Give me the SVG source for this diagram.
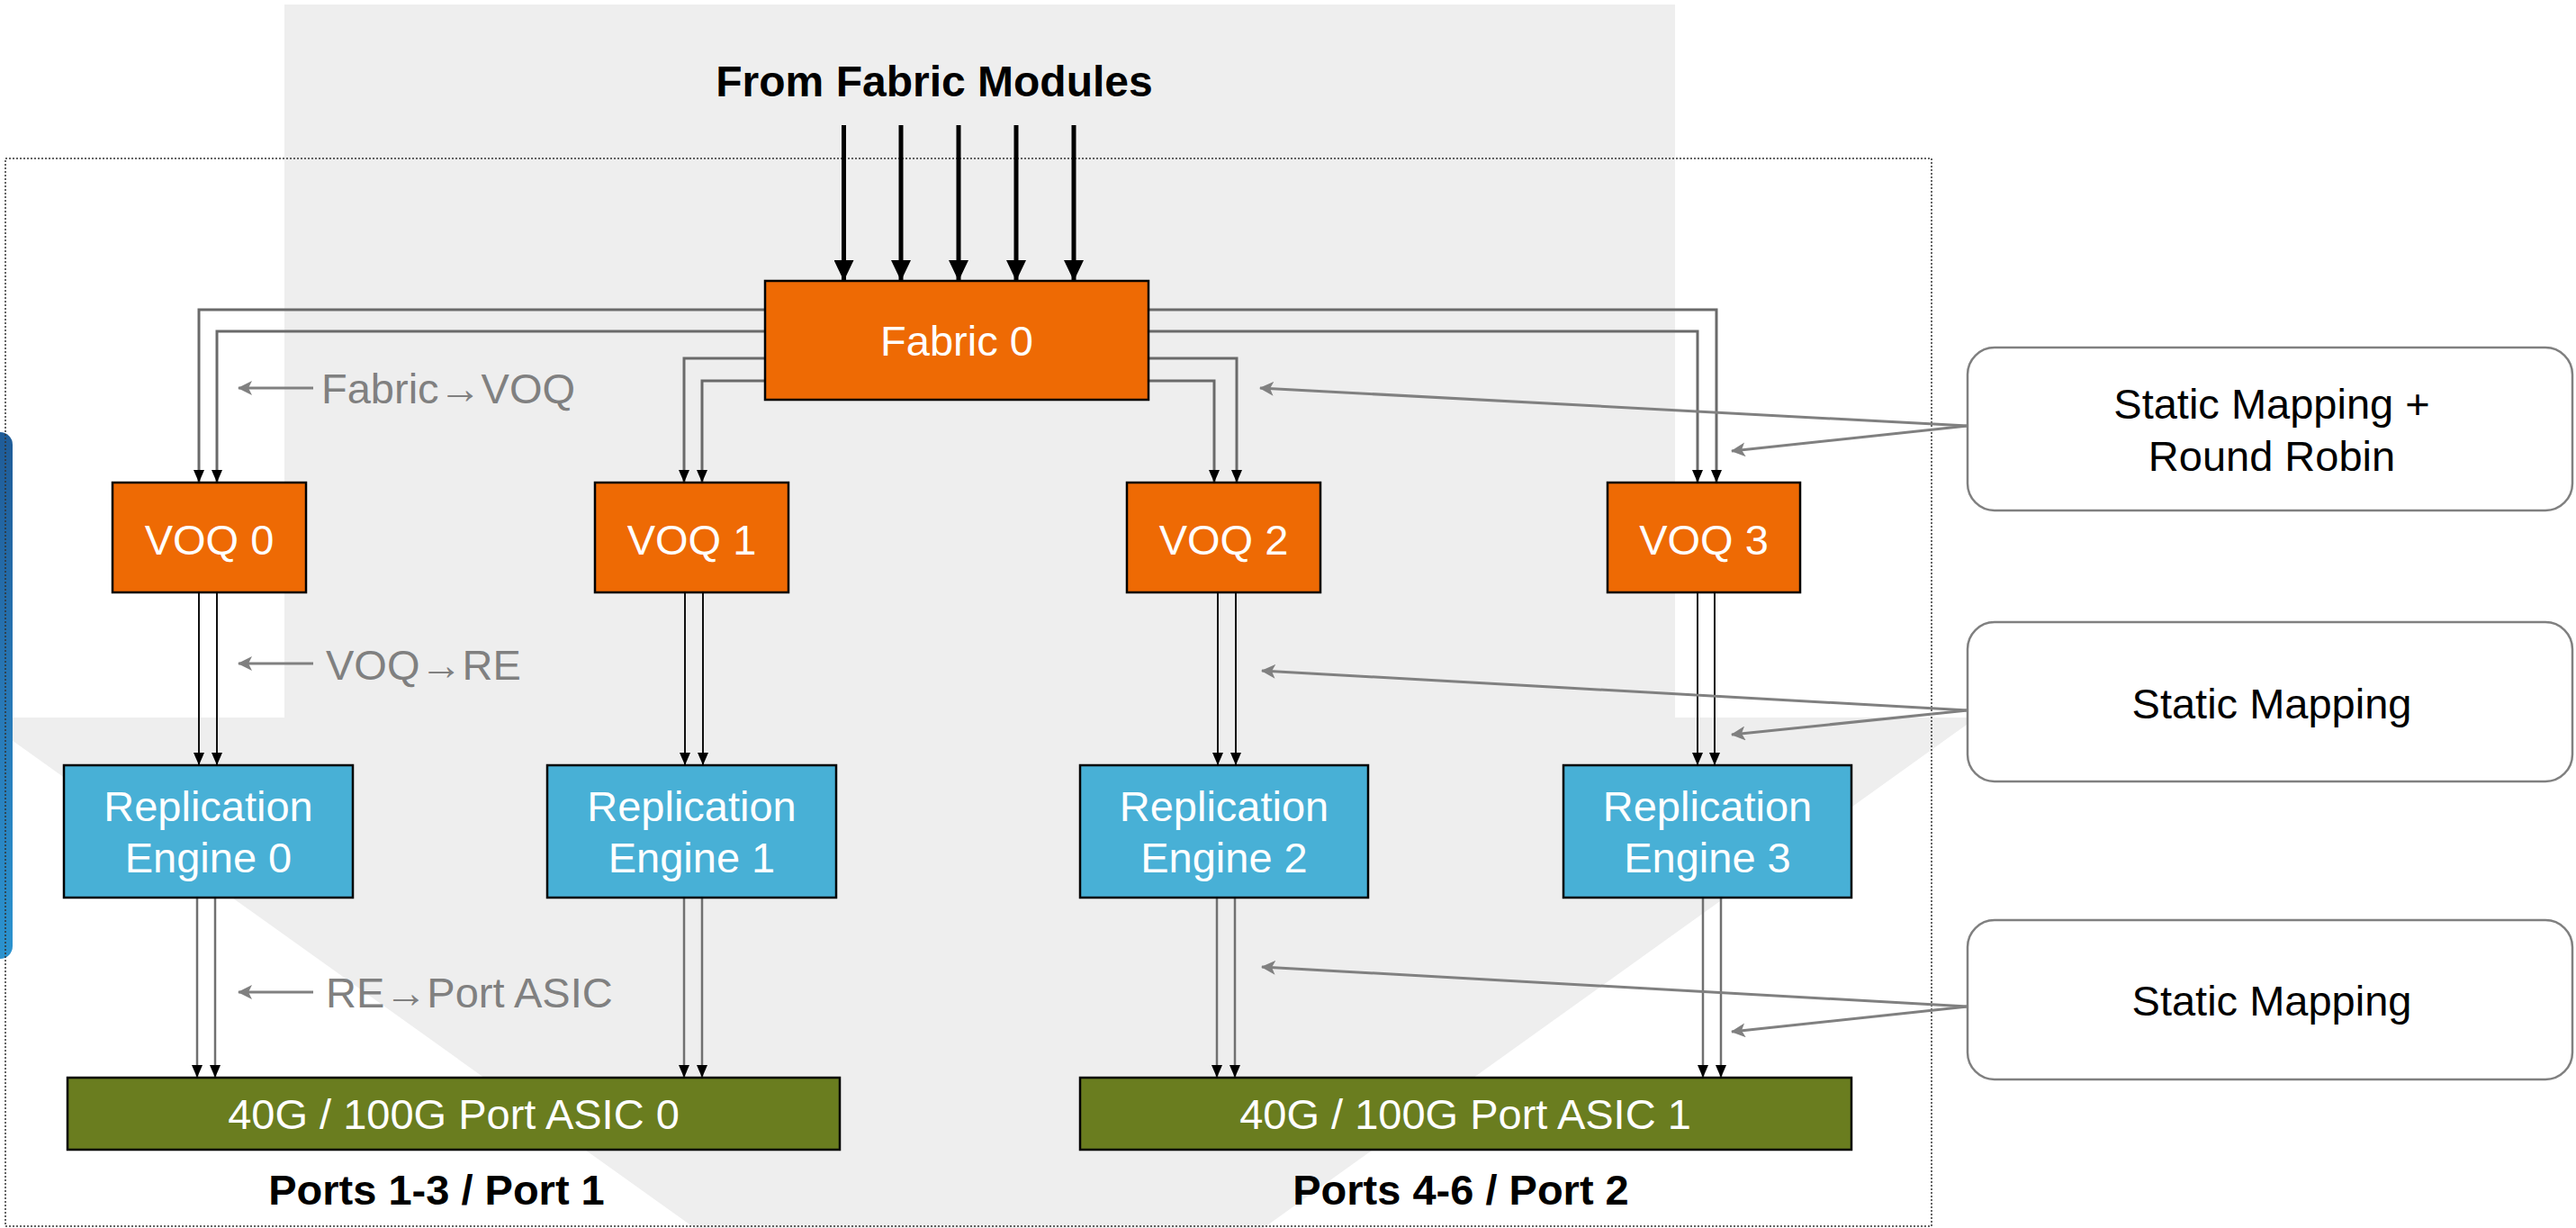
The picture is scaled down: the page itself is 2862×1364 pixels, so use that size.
<svg xmlns="http://www.w3.org/2000/svg" width="2862" height="1364" viewBox="0 0 2862 1364">
<style>
text{font-family:"Liberation Sans",Arial,sans-serif;font-size:47px}
.w{fill:#ffffff}
.g{fill:#808080}
.k{fill:#000000}
.b{font-weight:bold}
.m{text-anchor:middle}
.or{fill:#ee6a04;stroke:#000;stroke-width:2.5}
.bl{fill:#48b0d6;stroke:#000;stroke-width:2.5}
.ol{fill:#6a7d1f;stroke:#000;stroke-width:2.5}
.note{fill:#fff;stroke:#808080;stroke-width:2.5}
.fv{fill:none;stroke:#6a6a6a;stroke-width:3;marker-end:url(#ah)}
.vr{fill:none;stroke:#111;stroke-width:2;marker-end:url(#ah)}
.ra{fill:none;stroke:#707070;stroke-width:2.5;marker-end:url(#ah)}
.thick{fill:none;stroke:#000;stroke-width:5;marker-end:url(#tah)}
.an{fill:none;stroke:#808080;stroke-width:3;marker-end:url(#gah)}
</style>
<defs>
<marker id="ah" viewBox="0 0 14 12" refX="14" refY="6" markerWidth="14" markerHeight="12" markerUnits="userSpaceOnUse" orient="auto">
<path d="M0,0 L14,6 L0,12 Z" fill="#000"/>
</marker>
<marker id="tah" viewBox="0 0 23 22" refX="23" refY="11" markerWidth="23" markerHeight="22" markerUnits="userSpaceOnUse" orient="auto">
<path d="M0,0 L23,11 L0,22 Z" fill="#000"/>
</marker>
<marker id="gah" viewBox="0 0 16 16" refX="15" refY="8" markerWidth="16" markerHeight="16" markerUnits="userSpaceOnUse" orient="auto">
<path d="M0,0 L16,8 L0,16 L4,8 Z" fill="#808080"/>
</marker>
<linearGradient id="bg1" x1="0" y1="0" x2="0" y2="1">
<stop offset="0" stop-color="#1f5c98"/>
<stop offset="0.5" stop-color="#2878b6"/>
<stop offset="1" stop-color="#2b93cf"/>
</linearGradient>
</defs>
<rect x="0" y="0" width="2862" height="1364" fill="#ffffff"/>
<g id="background">
<polygon points="316,5 1861,5 1861,797 2196,797 1088,1590 -22,797 316,797" fill="#eeeeee"/>
<rect x="-40" y="480" width="54" height="585" rx="14" fill="url(#bg1)"/>
<rect x="6" y="176" width="2140" height="1186" fill="none" stroke="#333" stroke-width="1.5" stroke-dasharray="2,2"/>
</g>
<g id="title">
<text x="1038" y="107" class="k b m" style="font-size:48px">From Fabric Modules</text>
</g>
<g id="connectors">
<line x1="937.5" y1="139" x2="937.5" y2="312" class="thick"/>
<line x1="1001" y1="139" x2="1001" y2="312" class="thick"/>
<line x1="1065" y1="139" x2="1065" y2="312" class="thick"/>
<line x1="1129" y1="139" x2="1129" y2="312" class="thick"/>
<line x1="1193" y1="139" x2="1193" y2="312" class="thick"/>
<polyline points="850,344 221,344 221,536" class="fv"/>
<polyline points="850,368 241,368 241,536" class="fv"/>
<polyline points="850,398 760,398 760,536" class="fv"/>
<polyline points="850,423 780,423 780,536" class="fv"/>
<polyline points="1276,398 1374,398 1374,536" class="fv"/>
<polyline points="1276,423 1349,423 1349,536" class="fv"/>
<polyline points="1276,344 1907,344 1907,536" class="fv"/>
<polyline points="1276,368 1886,368 1886,536" class="fv"/>
<line x1="221" y1="658" x2="221" y2="850" class="vr"/>
<line x1="241" y1="658" x2="241" y2="850" class="vr"/>
<line x1="761" y1="658" x2="761" y2="850" class="vr"/>
<line x1="781" y1="658" x2="781" y2="850" class="vr"/>
<line x1="1353" y1="658" x2="1353" y2="850" class="vr"/>
<line x1="1373" y1="658" x2="1373" y2="850" class="vr"/>
<line x1="1886" y1="658" x2="1886" y2="850" class="vr"/>
<line x1="1905" y1="658" x2="1905" y2="850" class="vr"/>
<line x1="219" y1="997" x2="219" y2="1197" class="ra"/>
<line x1="239" y1="997" x2="239" y2="1197" class="ra"/>
<line x1="760" y1="997" x2="760" y2="1197" class="ra"/>
<line x1="780" y1="997" x2="780" y2="1197" class="ra"/>
<line x1="1352" y1="997" x2="1352" y2="1197" class="ra"/>
<line x1="1372" y1="997" x2="1372" y2="1197" class="ra"/>
<line x1="1892" y1="997" x2="1892" y2="1197" class="ra"/>
<line x1="1912" y1="997" x2="1912" y2="1197" class="ra"/>
<line x1="2186" y1="473" x2="1400" y2="431" class="an"/>
<line x1="2186" y1="473" x2="1924" y2="501" class="an"/>
<line x1="2186" y1="789" x2="1402" y2="745" class="an"/>
<line x1="2186" y1="789" x2="1924" y2="816" class="an"/>
<line x1="2186" y1="1118" x2="1402" y2="1074" class="an"/>
<line x1="2186" y1="1118" x2="1924" y2="1146" class="an"/>
<line x1="348" y1="431" x2="265" y2="431" class="an"/>
<line x1="348" y1="737" x2="265" y2="737" class="an"/>
<line x1="348" y1="1102" x2="265" y2="1102" class="an"/>
</g>
<g id="labels">
<text x="357" y="448" class="g">Fabric→VOQ</text>
<text x="362" y="755" class="g">VOQ→RE</text>
<text x="362" y="1119" class="g">RE→Port ASIC</text>
</g>
<g id="fabric0">
<rect x="850" y="312" width="426" height="132" class="or"/>
<text x="1063" y="395" class="w m">Fabric 0</text>
</g>
<g id="voq0">
<rect x="125" y="536" width="215" height="122" class="or"/>
<text x="232.5" y="616" class="w m">VOQ 0</text>
</g>
<g id="voq1">
<rect x="661" y="536" width="215" height="122" class="or"/>
<text x="768.5" y="616" class="w m">VOQ 1</text>
</g>
<g id="voq2">
<rect x="1252" y="536" width="215" height="122" class="or"/>
<text x="1359.5" y="616" class="w m">VOQ 2</text>
</g>
<g id="voq3">
<rect x="1786" y="536" width="214" height="122" class="or"/>
<text x="1893" y="616" class="w m">VOQ 3</text>
</g>
<g id="re0">
<rect x="71" y="850" width="321" height="147" class="bl"/>
<text x="231.5" y="912" class="w m">Replication</text>
<text x="231.5" y="969" class="w m">Engine 0</text>
</g>
<g id="re1">
<rect x="608" y="850" width="321" height="147" class="bl"/>
<text x="768.5" y="912" class="w m">Replication</text>
<text x="768.5" y="969" class="w m">Engine 1</text>
</g>
<g id="re2">
<rect x="1200" y="850" width="320" height="147" class="bl"/>
<text x="1360" y="912" class="w m">Replication</text>
<text x="1360" y="969" class="w m">Engine 2</text>
</g>
<g id="re3">
<rect x="1737" y="850" width="320" height="147" class="bl"/>
<text x="1897" y="912" class="w m">Replication</text>
<text x="1897" y="969" class="w m">Engine 3</text>
</g>
<g id="asic0">
<rect x="75" y="1197" width="858" height="80" class="ol"/>
<text x="504" y="1254" class="w m">40G / 100G Port ASIC 0</text>
</g>
<g id="asic1">
<rect x="1200" y="1197" width="857" height="80" class="ol"/>
<text x="1628" y="1254" class="w m">40G / 100G Port ASIC 1</text>
</g>
<g id="ports">
<text x="485" y="1338" class="k b m">Ports 1-3 / Port 1</text>
<text x="1623" y="1338" class="k b m">Ports 4-6 / Port 2</text>
</g>
<g id="note1">
<rect x="2186" y="386" width="672" height="181" rx="30" class="note"/>
<text x="2524" y="465" class="k m">Static Mapping +</text>
<text x="2524" y="523" class="k m">Round Robin</text>
</g>
<g id="note2">
<rect x="2186" y="691" width="672" height="177" rx="30" class="note"/>
<text x="2524" y="798" class="k m">Static Mapping</text>
</g>
<g id="note3">
<rect x="2186" y="1022" width="672" height="177" rx="30" class="note"/>
<text x="2524" y="1128" class="k m">Static Mapping</text>
</g>
</svg>
